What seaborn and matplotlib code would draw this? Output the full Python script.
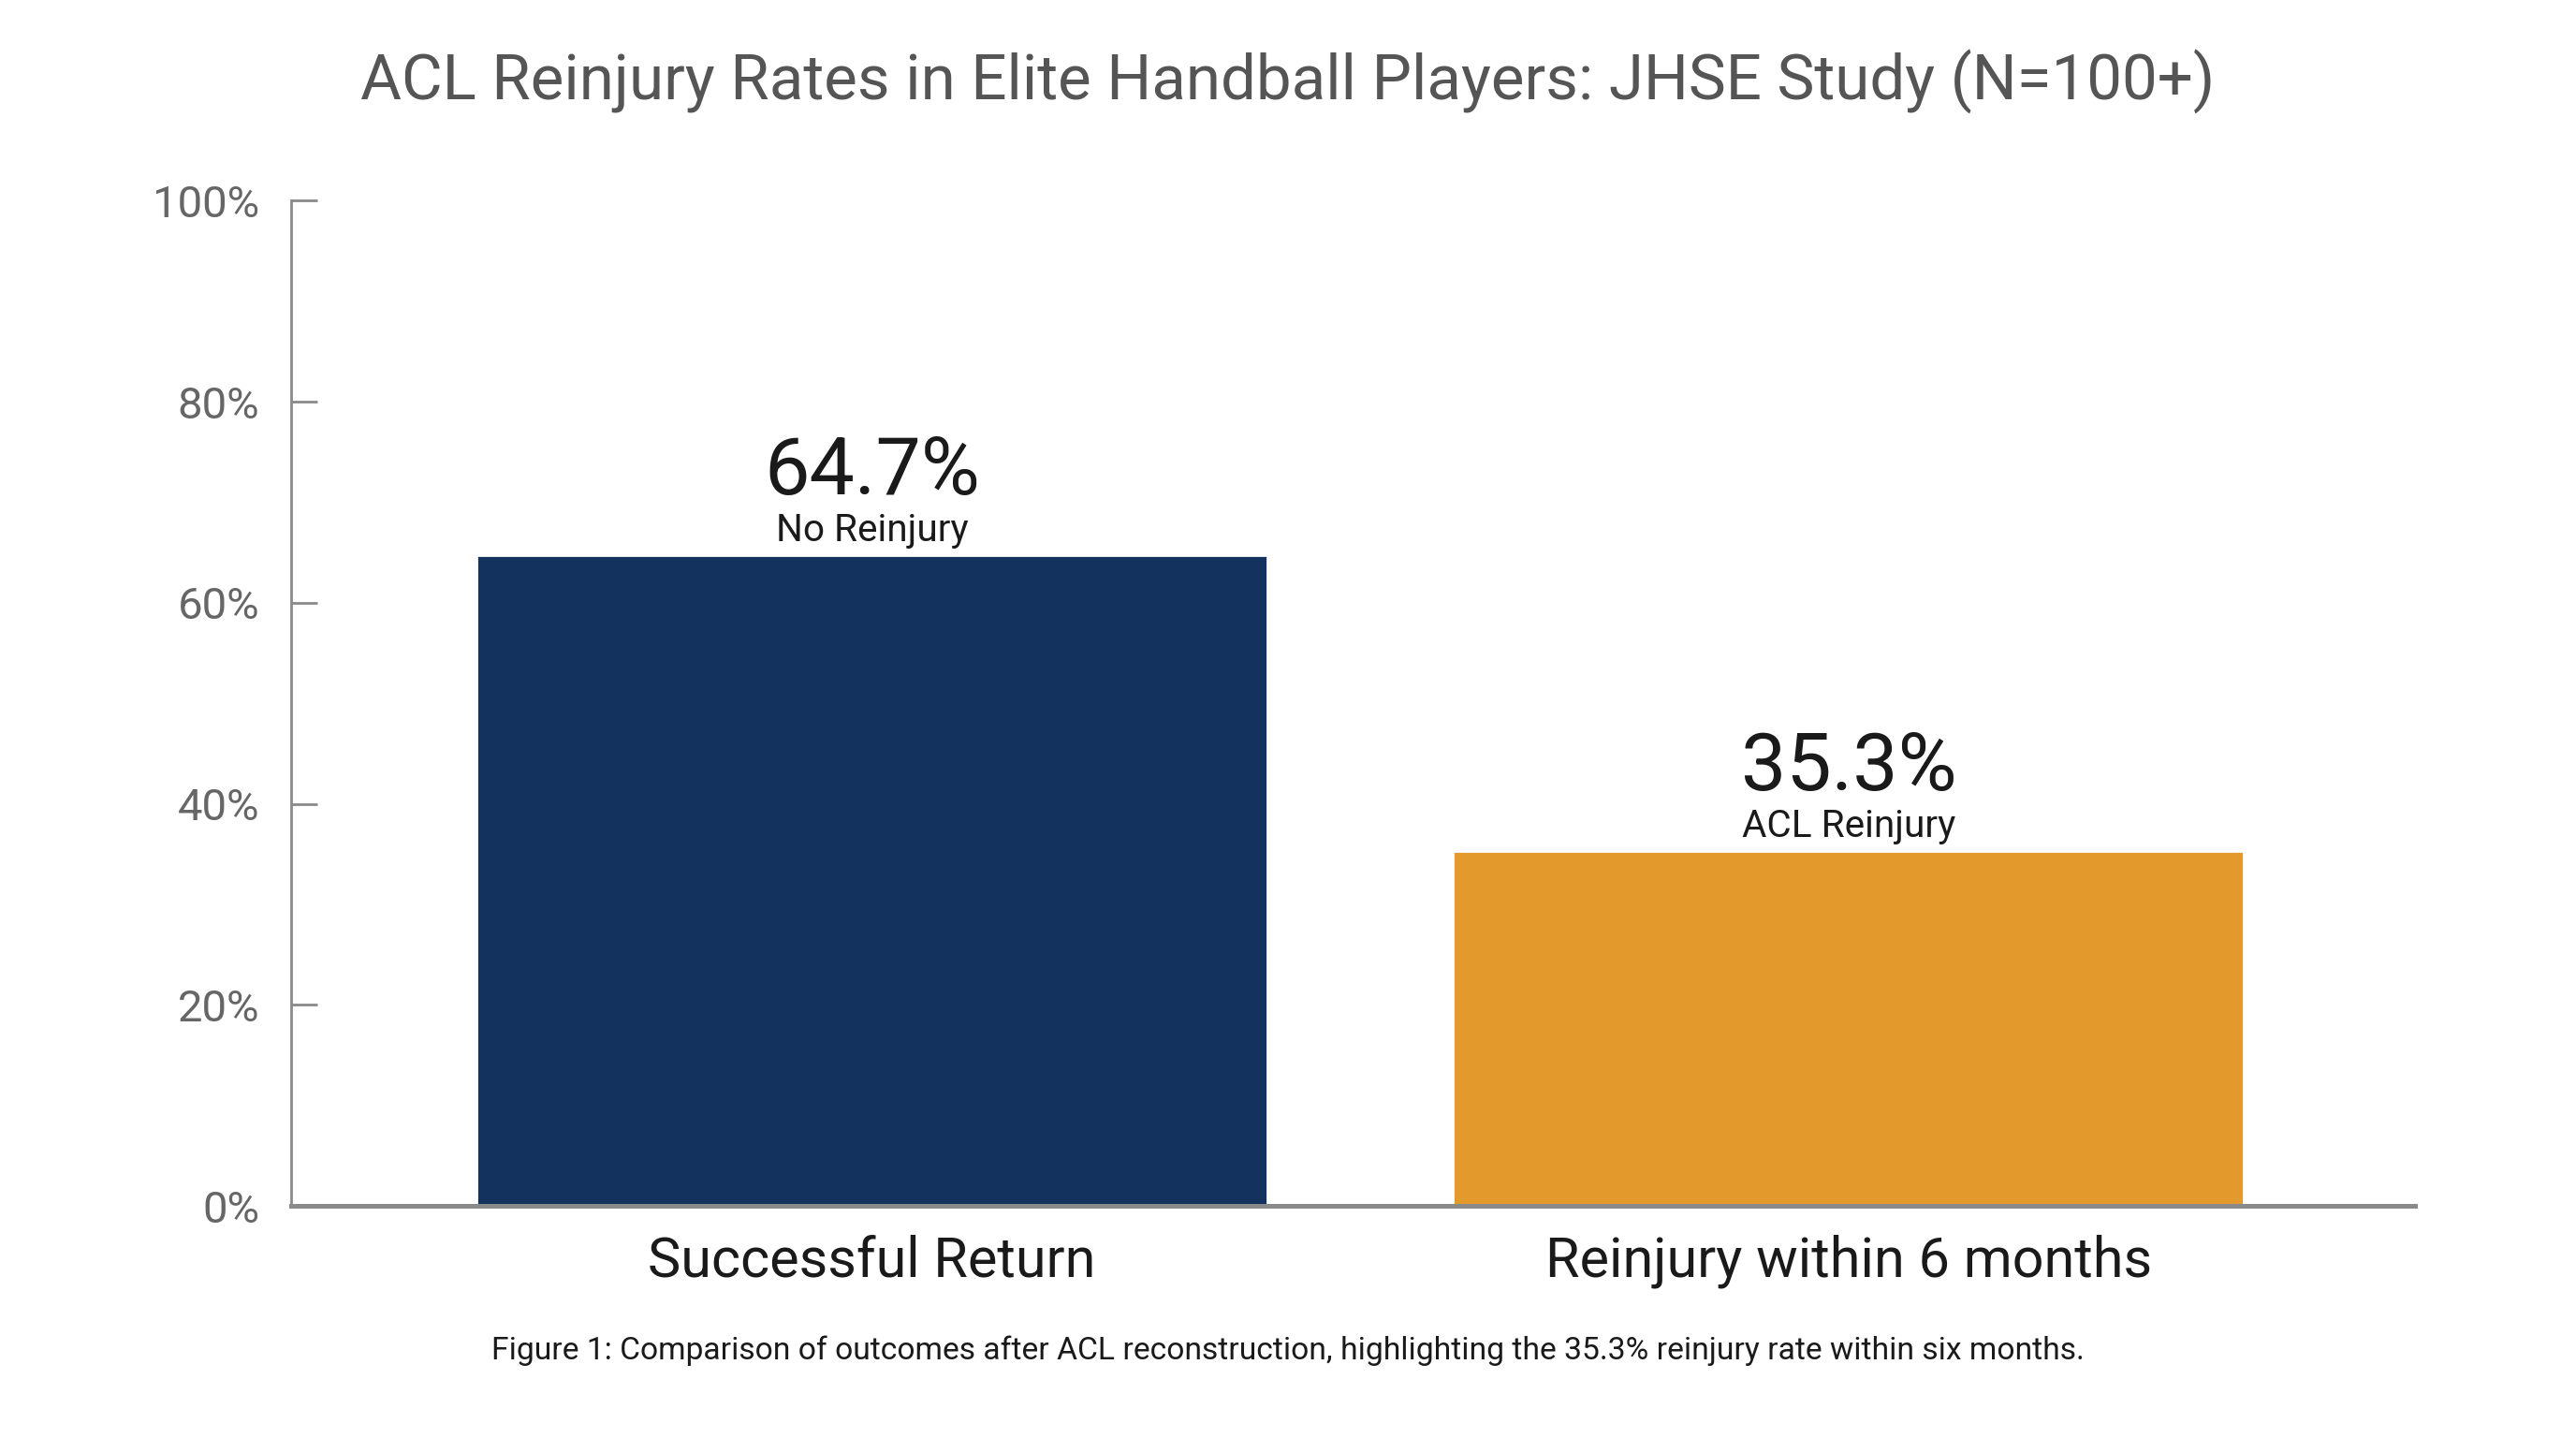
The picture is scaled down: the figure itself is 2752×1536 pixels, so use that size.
import matplotlib
matplotlib.use("Agg")
import matplotlib.pyplot as plt
import seaborn as sns
import pandas as pd
from matplotlib.ticker import FuncFormatter

categories = ["Successful Return", "Reinjury within 6 months"]
values = [64.7, 35.3]
sublabels = ["No Reinjury", "ACL Reinjury"]
colors = ["#14325E", "#E3992B"]
yticks = [0, 20, 40, 60, 80, 100]
title = "ACL Reinjury Rates in Elite Handball Players: JHSE Study (N=100+)"
caption = ("Figure 1: Comparison of outcomes after ACL reconstruction, "
           "highlighting the 35.3% reinjury rate within six months.")

sns.set_theme(style="white")
plt.rcParams["font.family"] = ["Roboto", "DejaVu Sans"]

df = pd.DataFrame({"category": categories, "value": values})

fig = plt.figure(figsize=(13.76, 7.68), dpi=200)
ax = fig.add_axes([0.1129, 0.1613, 0.8246, 0.6991])

sns.barplot(data=df, x="category", y="value", hue="category",
            palette=colors, legend=False, width=0.81, ax=ax,
            saturation=1)

ax.set_xlim(-0.595, 1.58)
ax.set_ylim(0, 100)
ax.set_yticks(yticks)
ax.yaxis.set_major_formatter(FuncFormatter(lambda v, p: f"{v:.0f}%"))
ax.set_xlabel("")
ax.set_ylabel("")

for s in ["top", "right"]:
    ax.spines[s].set_visible(False)
ax.spines["left"].set_color("#8a8a8a")
ax.spines["left"].set_linewidth(1.0)
ax.spines["bottom"].set_color("#8a8a8a")
ax.spines["bottom"].set_linewidth(1.8)

ax.tick_params(axis="y", direction="in", length=10, width=1.0,
               color="#8a8a8a", labelsize=17, labelcolor="#666666", pad=12,
               left=True)
ax.tick_params(axis="x", length=0, labelsize=21.4, labelcolor="#1a1a1a", pad=11)

for i, (v, sub) in enumerate(zip(values, sublabels)):
    ax.annotate(f"{v}%", xy=(i, v), xytext=(0, 23.5), textcoords="offset points",
                ha="center", va="baseline", fontsize=31, color="#1a1a1a")
    ax.annotate(sub, xy=(i, v), xytext=(0, 5.5), textcoords="offset points",
                ha="center", va="baseline", fontsize=14.6, color="#1a1a1a")

fig.text(0.5, 0.943, title, ha="center", va="center", fontsize=24.2,
         color="#555555")
fig.text(0.5, 0.061, caption, ha="center", va="center", fontsize=12.1,
         color="#1a1a1a")

fig.savefig("out.png", dpi=200, facecolor="white")
